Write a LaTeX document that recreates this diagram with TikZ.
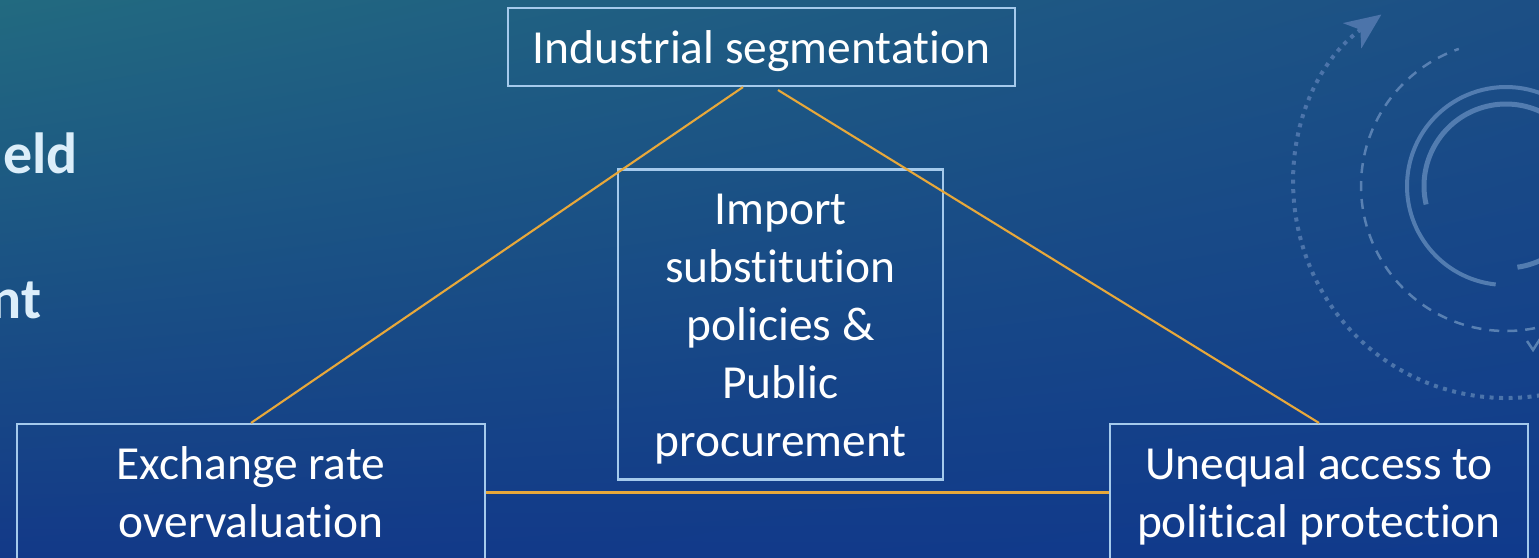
\documentclass[tikz,border=0pt]{standalone}
\usepackage{fontspec}
\setmainfont{Carlito}[Ligatures=NoCommon]
\usetikzlibrary{arrows.meta,shadings}

\definecolor{bgtl}{RGB}{34,106,128}
\definecolor{bgtr}{RGB}{28,79,133}
\definecolor{bgbl}{RGB}{19,57,136}
\definecolor{bgbr}{RGB}{16,58,140}
\definecolor{boxline}{RGB}{165,202,236}
\definecolor{linkorange}{RGB}{232,168,58}
\definecolor{sidetext}{RGB}{220,238,250}
\definecolor{ringsolid}{RGB}{82,124,176}
\definecolor{ringdash}{RGB}{88,128,178}
\definecolor{ringdot}{RGB}{76,116,170}

\newcommand{\topstrut}{\rule{0pt}{23pt}}

\begin{document}
\begin{tikzpicture}[
    box/.style={draw=boxline, line width=1.2pt, text=white, align=center, inner sep=0pt,
                font=\fontsize{27}{33}\selectfont},
    link/.style={draw=linkorange, line width=1.2pt},
    side/.style={text=sidetext, inner sep=0pt, font=\fontsize{33}{40}\selectfont\bfseries}]
    % 背景
    \useasboundingbox (0,0) rectangle (30.78,-11.14);
    \clip (0,0) rectangle (30.78,-11.14);
    \shade[upper left=bgtl, upper right=bgtr, lower left=bgbl, lower right=bgbr] (0,0) rectangle (30.78,-11.14);

    % 飾りの輪
    \coordinate (ring) at (30.12,-3.72);
    \draw[ringdot, line width=0.08cm, dash pattern=on 0.08cm off 0.11cm, -{Stealth[length=0.72cm, width=0.62cm, inset=0.2cm]}]
        (ring) ++(-60:4.24) arc[start angle=-60, end angle=-234, radius=4.24];
    \draw[ringdash, line width=0.05cm, dash pattern=on 0.2cm off 0.16cm]
        (ring) ++(-50:2.9) arc[start angle=-50, end angle=-251, radius=2.9];
    \draw[ringdash, line width=0.05cm] (30.54,-6.82) -- (30.66,-7.0) -- (30.8,-6.78);
    \draw[ringsolid, line width=0.08cm] (ring) ++(-96:1.98) arc[start angle=-96, end angle=-300, radius=1.98];
    \draw[ringsolid, line width=0.1cm] (ring) ++(-167:1.64) arc[start angle=-167, end angle=-300, radius=1.64];
    \draw[ringsolid, line width=0.1cm] (ring) ++(-82:1.64) arc[start angle=-82, end angle=-40, radius=1.64];

    % 左端の文字
    \node[side, anchor=base east] (fld) at (1.56,-3.46) {eld};
    \node[side, anchor=base east] (ment) at (0.84,-6.36) {nt};

    % 箱
    \node[box, minimum width=10.14cm, minimum height=1.56cm] (seg) at (15.23,-0.94) {\topstrut Industrial segmentation};
    \node[box, minimum width=6.5cm, minimum height=6.2cm] (isi) at (15.61,-6.49) {\topstrut Import\\substitution\\policies \&\\Public\\procurement};
    \node[box, minimum width=9.36cm, minimum height=2.74cm] (fx) at (5.02,-9.85) {Exchange rate\\overvaluation};
    \node[box, minimum width=8.36cm, minimum height=2.74cm] (acc) at (26.38,-9.85) {\topstrut Unequal access to\\political protection};

    % 線
    \draw[link] ([xshift=-0.37cm]seg.south) -- (fx.north);
    \draw[link] ([xshift=0.33cm, yshift=-0.06cm]seg.south) -- (acc.north);
    \draw[link] (fx.east) -- (acc.west);
\end{tikzpicture}
\end{document}
